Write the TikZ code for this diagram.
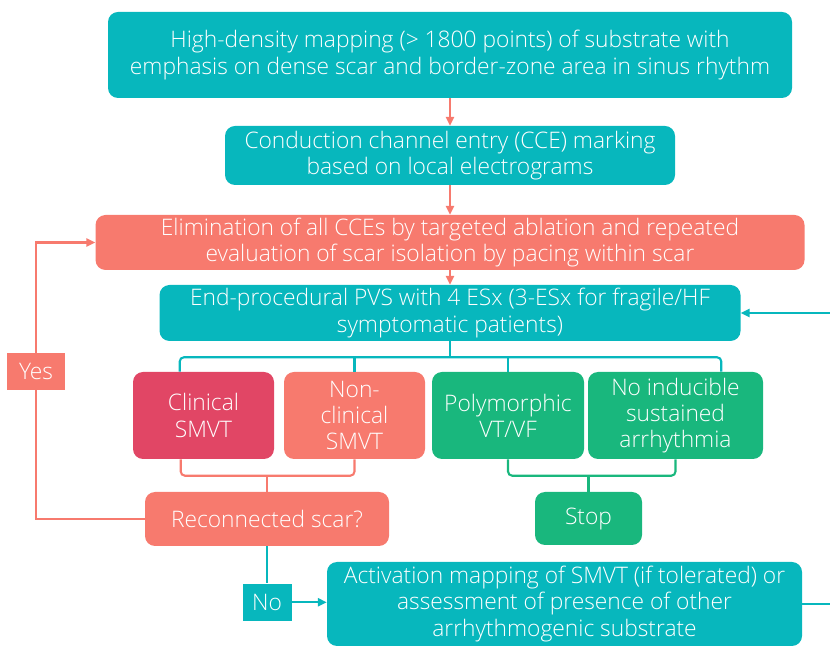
\documentclass[tikz,border=0pt]{standalone}
\usepackage{fontspec}
\setmainfont{Open Sans}[UprightFont=* Light]
\usetikzlibrary{calc,arrows.meta}

\definecolor{cteal}{HTML}{07B7BD}
\definecolor{csalmon}{HTML}{F77A6E}
\definecolor{cred}{HTML}{E14665}
\definecolor{cgreen}{HTML}{19B77D}

\begin{document}
\begin{tikzpicture}[every node/.style={font=\fontsize{16.2}{18.7}\selectfont, text=white, align=center, inner sep=0pt},
                    flowbox/.style={rounded corners=0.25cm},
                    tealbox/.style={flowbox, fill=cteal},
                    salmonbox/.style={flowbox, fill=csalmon},
                    redbox/.style={flowbox, fill=cred},
                    greenbox/.style={flowbox, fill=cgreen},
                    tag/.style={minimum height=0.925cm},
                    link/.style={line width=1.5pt},
                    tipped/.style={-{Triangle[length=2.2mm,width=2mm]}}
]

% Page size, cut at the edges like the original
\useasboundingbox (0,0) rectangle (20.75,-16.15);
\clip (0,0) rectangle (20.75,-16.15);

% Main column
\node [tealbox, minimum width=17.1cm, minimum height=2.15cm] at (11.25,-1.375) (map)
    {High-density mapping (> 1800 points) of substrate with\\emphasis on dense scar and border-zone area in sinus rhythm};
\node [tealbox, minimum width=11.25cm, minimum height=1.475cm] at (11.25,-3.8875) (cce)
    {Conduction channel entry (CCE) marking\\based on local electrograms};
\node [salmonbox, minimum width=17.725cm, minimum height=1.375cm] at (11.25,-6.0625) (elim)
    {Elimination of all CCEs by targeted ablation and repeated\\evaluation of scar isolation by pacing within scar};
\node [tealbox, minimum width=14.525cm, minimum height=1.4cm] at (11.25,-7.825) (pvs)
    {End-procedural PVS with 4 ESx (3-ESx for fragile/HF\\symptomatic patients)};

% PVS outcomes
\node [redbox, minimum width=3.525cm, minimum height=2.175cm] at (5.0875,-10.3875) (clin) {Clinical\\SMVT};
\node [salmonbox, minimum width=3.525cm, minimum height=2.175cm] at (8.8625,-10.3875) (nonclin) {Non-\\clinical\\SMVT};
\node [greenbox, minimum width=3.8cm, minimum height=2.175cm] at (12.7,-10.3875) (poly) {Polymorphic\\VT/VF};
\node [greenbox, minimum width=4.375cm, minimum height=2.175cm] at (16.8875,-10.3875) (noind) {No inducible\\sustained\\arrhythmia};

% Decision and stop
\node [salmonbox, minimum width=6.1cm, minimum height=1.35cm] at (6.675,-12.975) (reconn) {Reconnected scar?};
\node [greenbox, minimum width=2.675cm, minimum height=1.325cm] at (14.7125,-12.9625) (stop) {Stop};

% Yes / No tags
\node [tag, fill=csalmon, minimum width=1.45cm] at (0.9,-9.2875) (yes) {Yes};
\node [tag, fill=cteal, minimum width=1.225cm] at ($(reconn.south)+(0,-1.4)$) (no) {No};

\node [tealbox, minimum width=11.875cm, minimum height=2.1cm] at (14.1125,-15.1) (act)
    {Activation mapping of SMVT (if tolerated) or\\assessment of presence of other\\arrhythmogenic substrate};

% Arrows down the main column
\draw [link, tipped, csalmon] (map.south) -- (cce.north);
\draw [link, tipped, csalmon] (cce.south) -- (elim.north);
\draw [link, tipped, csalmon] (elim.south) -- (pvs.north);

% Brace from PVS to the four outcomes
\coordinate (tbr) at ($(pvs.south)+(0,-0.4)$);
\draw [link, cteal] (pvs.south) -- (tbr);
\draw [link, cteal, rounded corners=3pt] ($(clin.north west)+(1.175,0)$) |- (tbr) -| ($(noind.north east)+(-1.05,0)$);
\draw [link, cteal] (nonclin.north) -- (nonclin.north |- tbr);
\draw [link, cteal] (poly.north) -- (poly.north |- tbr);

% Braces under the outcomes
\coordinate (sbr) at ($(reconn.north)+(0,0.4)$);
\draw [link, csalmon] (sbr) -- (reconn.north);
\draw [link, csalmon, rounded corners=3pt] ($(clin.south west)+(1.2,0)$) |- (sbr) -| (nonclin.south);
\coordinate (gbr) at ($(stop.north)+(0,0.4)$);
\draw [link, cgreen] (gbr) -- (stop.north);
\draw [link, cgreen, rounded corners=3pt] (poly.south) |- (gbr) -| (noind.south);

% Yes: back to ablation
\draw [link, csalmon] (reconn.west) -| (yes.south);
\draw [link, tipped, csalmon] (yes.north) |- (elim.west);

% No: on to activation mapping, and back to PVS
\draw [link, cteal] (reconn.south) -- (no.north);
\draw [link, tipped, cteal] (no.east) -- (no.east -| act.west);
\draw [link, tipped, cteal] (act.east) -- ++(1,0) |- (pvs.east);

\end{tikzpicture}
\end{document}
